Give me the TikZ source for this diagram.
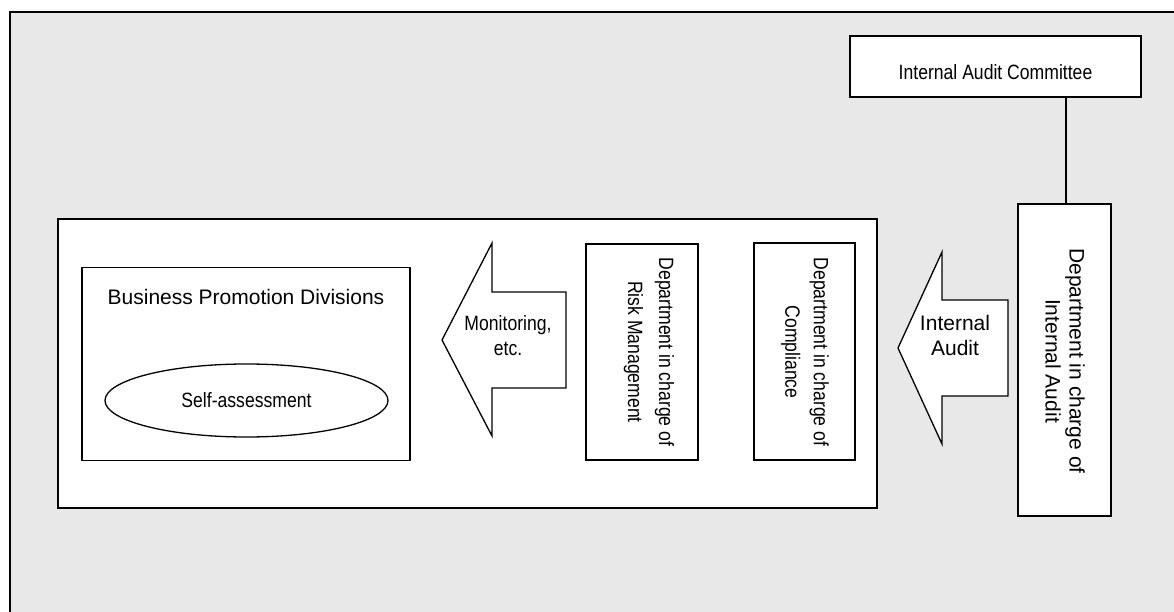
\documentclass[tikz,border=0pt]{standalone}
\usepackage{fontspec}
\setmainfont{Liberation Sans}
\newfontfamily\narrowfont[FakeStretch=0.85]{Liberation Sans}
\usetikzlibrary{shapes.geometric}
\definecolor{bggray}{RGB}{232,232,232}
\tikzset{
  box/.style={draw=black, fill=white, line width=1.3pt, inner sep=0pt, rectangle},
  bigarrow/.style={draw=black, fill=white, line width=1.3pt, line join=miter},
  wide/.style={font=\fontsize{21}{25}\selectfont, align=center, inner sep=0pt},
  narrow/.style={font=\narrowfont\fontsize{20.7}{25}\selectfont, align=center, inner sep=0pt},
}
\begin{document}
\begin{tikzpicture}[x=1pt,y=-1pt]
\useasboundingbox (0,0) rectangle (1174,612);
\clip (0,0) rectangle (1174,612);
% outer frame
\draw[fill=bggray, line width=1.8pt] (10,12) rectangle (1190,630);
% container
\node[box, minimum width=819pt, minimum height=289pt] (cont) at (467.5,363.5) {};
% business promotion divisions
\node[box, minimum width=328pt, minimum height=193pt] (bpd) at (246,364) {};
\node[wide] (bpdtitle) at (246,297) {Business Promotion Divisions};
\node[draw=black, fill=white, line width=1.3pt, ellipse, inner sep=0pt, minimum width=283pt, minimum height=73pt, narrow] (self) at (246.5,400.5) {Self-assessment};
% monitoring arrow
\coordinate (m1) at (442,340);
\draw[bigarrow] (m1) -- (492,243) -- (492,292) -- (566,292) -- (566,388) -- (492,388) -- (492,436) -- cycle;
\node[narrow] (mon) at (508,336) {Monitoring,\\etc.};
% risk management
\node[box, minimum width=112pt, minimum height=216pt] (risk) at (642,352) {};
\node[narrow, rotate=-90, font=\narrowfont\fontsize{20.7}{31}\selectfont] (risktxt) at (649,352) {Department in charge of\\Risk Management};
% compliance
\node[box, minimum width=101pt, minimum height=217pt] (comp) at (804.5,351.5) {};
\node[narrow, rotate=-90, font=\narrowfont\fontsize{20.7}{28.5}\selectfont] (comptxt) at (805,352) {Department in charge of\\Compliance};
% internal audit arrow
\coordinate (a1) at (898,348);
\draw[bigarrow] (a1) -- (942,252) -- (942,300) -- (1008,300) -- (1008,396) -- (942,396) -- (942,444) -- cycle;
\node[wide] (iatxt) at (955,335) {Internal\\Audit};
% department in charge of internal audit
\node[box, minimum width=93pt, minimum height=312pt] (dia) at (1064.5,360) {};
\node[wide, rotate=-90, font=\fontsize{21}{24}\selectfont] (diatxt) at (1065,361) {Department in charge of\\Internal Audit};
% internal audit committee
\node[box, minimum width=291pt, minimum height=61pt] (iac) at (995.5,66.5) {};
\node[narrow] (iactxt) at (995.5,72) {Internal Audit Committee};
\draw[line width=1.3pt] (1066,97) coordinate (c1) -- (c1 |- dia.north);
\end{tikzpicture}
\end{document}
